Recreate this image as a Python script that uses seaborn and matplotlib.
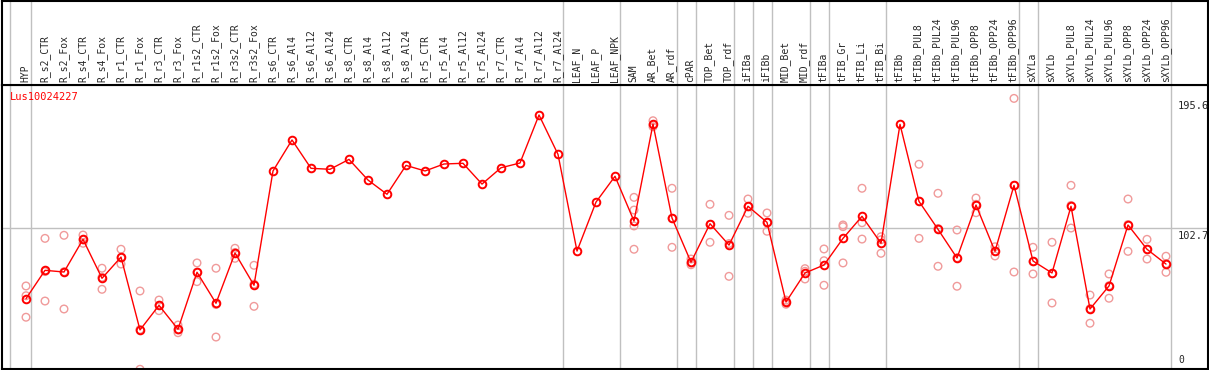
import numpy as np
import pandas as pd
import matplotlib
matplotlib.use("Agg")
import matplotlib.pyplot as plt
import matplotlib.transforms as mtransforms
import seaborn as sns

# gene / sample data
gene = "Lus10024227"

samples = [
    "HYP", "R_s2_CTR", "R_s2_Fox", "R_s4_CTR", "R_s4_Fox", "R_r1_CTR", "R_r1_Fox",
    "R_r3_CTR", "R_r3_Fox", "R_r1s2_CTR", "R_r1s2_Fox", "R_r3s2_CTR", "R_r3s2_Fox",
    "R_s6_CTR", "R_s6_Al4", "R_s6_Al12", "R_s6_Al24", "R_s8_CTR", "R_s8_Al4",
    "R_s8_Al12", "R_s8_Al24", "R_r5_CTR", "R_r5_Al4", "R_r5_Al12", "R_r5_Al24",
    "R_r7_CTR", "R_r7_Al4", "R_r7_Al12", "R_r7_Al24",
    "LEAF_N", "LEAF_P", "LEAF_NPK",
    "SAM", "AR_Bet", "AR_rdf", "cPAR", "TOP_Bet", "TOP_rdf", "iFIBa", "iFIBb",
    "MID_Bet", "MID_rdf", "tFIBa", "tFIB_Gr", "tFIB_Li", "tFIB_Bi",
    "tFIBb", "tFIBb_PUL8", "tFIBb_PUL24", "tFIBb_PUL96", "tFIBb_OPP8",
    "tFIBb_OPP24", "tFIBb_OPP96",
    "sXYLa", "sXYLb", "sXYLb_PUL8", "sXYLb_PUL24", "sXYLb_PUL96", "sXYLb_OPP8",
    "sXYLb_OPP24", "sXYLb_OPP96",
]

means = [
    52.1, 72.4, 71.2, 94.6, 66.7, 81.9, 29.7, 47.3, 30.2, 71.0, 48.8, 84.8, 61.7,
    143.6, 165.8, 145.5, 144.8, 151.9, 137.1, 126.9, 147.6, 143.6, 148.6, 149.1,
    134.2, 145.9, 149.3, 183.7, 155.5,
    86.2, 121.3, 139.8,
    107.7, 177.2, 109.9, 78.2, 105.8, 90.5, 118.3, 106.8, 49.7, 70.5, 76.2, 95.3,
    111.1, 91.8,
    177.0, 121.8, 101.8, 81.2, 119.2, 86.0, 133.3,
    79.1, 70.5, 118.3, 44.7, 61.2, 104.9, 87.5, 76.9,
]

replicates = [
    [61.2, 54.2, 38.8], [95.3, 50.4, 71.5], [97.5, 44.7, 71.4], [97.7, 91.8, 94.3],
    [73.9, 58.8, 67.4], [87.5, 76.9, 81.3], [57.6, 1.5, 30.0], [51.1, 43.5, 47.3],
    [33.2, 27.7, 29.7], [77.7, 64.3, 71.0], [73.9, 24.6, 47.9], [88.2, 81.0, 85.2],
    [76.0, 46.6, 62.5],
    [], [], [], [], [], [], [], [], [], [], [], [], [], [], [], [],
    [], [], [],
    [124.7, 115.6, 104.2, 87.5], [179.6, 175.3, 176.7], [131.2, 88.9, 109.6],
    [80.5, 76.4, 77.7], [119.7, 92.5, 105.2], [111.8, 68.1, 91.6],
    [123.5, 113.3, 118.0], [113.5, 100.4, 106.5], [51.1, 48.1, 49.9],
    [73.6, 66.2, 71.7], [87.7, 79.3, 61.7], [104.9, 103.7, 77.7],
    [131.2, 106.5, 94.8], [96.5, 84.6, 94.3],
    [], [148.4, 95.3, 121.8], [127.6, 75.3, 102.4], [101.3, 61.0, 81.4],
    [124.2, 113.7, 119.7], [89.3, 82.7, 86.1], [195.6, 71.2, 133.2],
    [88.9, 69.8, 78.6], [92.5, 49.0, 70.0], [133.3, 102.7, 118.9],
    [54.7, 34.5, 44.9], [69.8, 52.4, 61.4], [123.5, 86.0, 105.2],
    [94.6, 80.5, 87.4], [82.5, 71.0, 77.2],
]

y_ticks = [0, 102.7, 195.6]
# last sample index of each tissue group (grey separators)
group_ends = [0, 28, 31, 34, 35, 37, 38, 39, 41, 42, 45, 52, 53, 60]

mean_df = pd.DataFrame({"pos": np.arange(len(samples)), "value": means})
rep_df = pd.DataFrame(
    [(i, v) for i, vals in enumerate(replicates) for v in vals],
    columns=["pos", "value"],
)

sns.set_style("white")
plt.rcParams["font.family"] = ["DejaVu Sans Mono"]

W, H = 1209, 370
fig = plt.figure(figsize=(W / 100, H / 100), dpi=100)
x0, x1 = 1.5, 1207.5
head = 85
ax = fig.add_axes([x0 / W, (H - 369) / H, (x1 - x0) / W, (369 - head) / H])
axh = fig.add_axes([x0 / W, (H - head) / H, (x1 - x0) / W, (head - 0.5) / H])

xlim = ((x0 - 26) / 19, (x1 - 26) / 19)
grey = "#c0c0c0"

# replicates (light) then the mean line
sns.scatterplot(data=rep_df, x="pos", y="value", ax=ax, marker="o", s=30,
                facecolor="none", edgecolor="#f09a9a", linewidth=1.0, zorder=2)
sns.lineplot(data=mean_df, x="pos", y="value", ax=ax, color="red", lw=1,
             marker="o", markersize=5.5, markerfacecolor="none",
             markeredgecolor="red", markeredgewidth=1.4, zorder=3)

ax.set_xlim(*xlim)
ax.set_ylim(1.7, 205.2)
axh.set_xlim(*xlim)
axh.set_ylim(0, 1)

ax.axhline(102.7, color=grey, lw=1, zorder=0)
for a in (ax, axh):
    a.axvline(-0.83, color=grey, lw=1, zorder=0)
    for e in group_ends:
        a.axvline(e + 0.24, color=grey, lw=1, zorder=0)
    a.set_xticks([])
    a.set_yticks([])
    a.set_xlabel("")
    a.set_ylabel("")
    for sp in a.spines.values():
        sp.set_color("black")
        sp.set_linewidth(1.5)

# rotated sample names in the header strip
htrans = mtransforms.blended_transform_factory(axh.transData, axh.transAxes)
for i, s in enumerate(samples):
    axh.text(i - 0.03, 0.03, s, rotation=90, ha="center", va="bottom",
             fontsize=7, transform=htrans)

ax.text(0.007, 0.975, gene, color="red", fontsize=7.5, ha="left", va="top",
        transform=ax.transAxes)

# value labels on the right
ttrans = mtransforms.blended_transform_factory(ax.transAxes, ax.transData)
for v in y_ticks:
    if v == 0:
        ax.text(0.9756, 0.015, "0", fontsize=7, ha="left", va="bottom",
                transform=ax.transAxes)
    else:
        off = mtransforms.offset_copy(ttrans, fig=fig, x=0, y=-3, units="dots")
        ax.text(0.9756, v, f"{v}", fontsize=7.5, ha="left", va="top",
                transform=off)

fig.savefig("out.png", dpi=100)
